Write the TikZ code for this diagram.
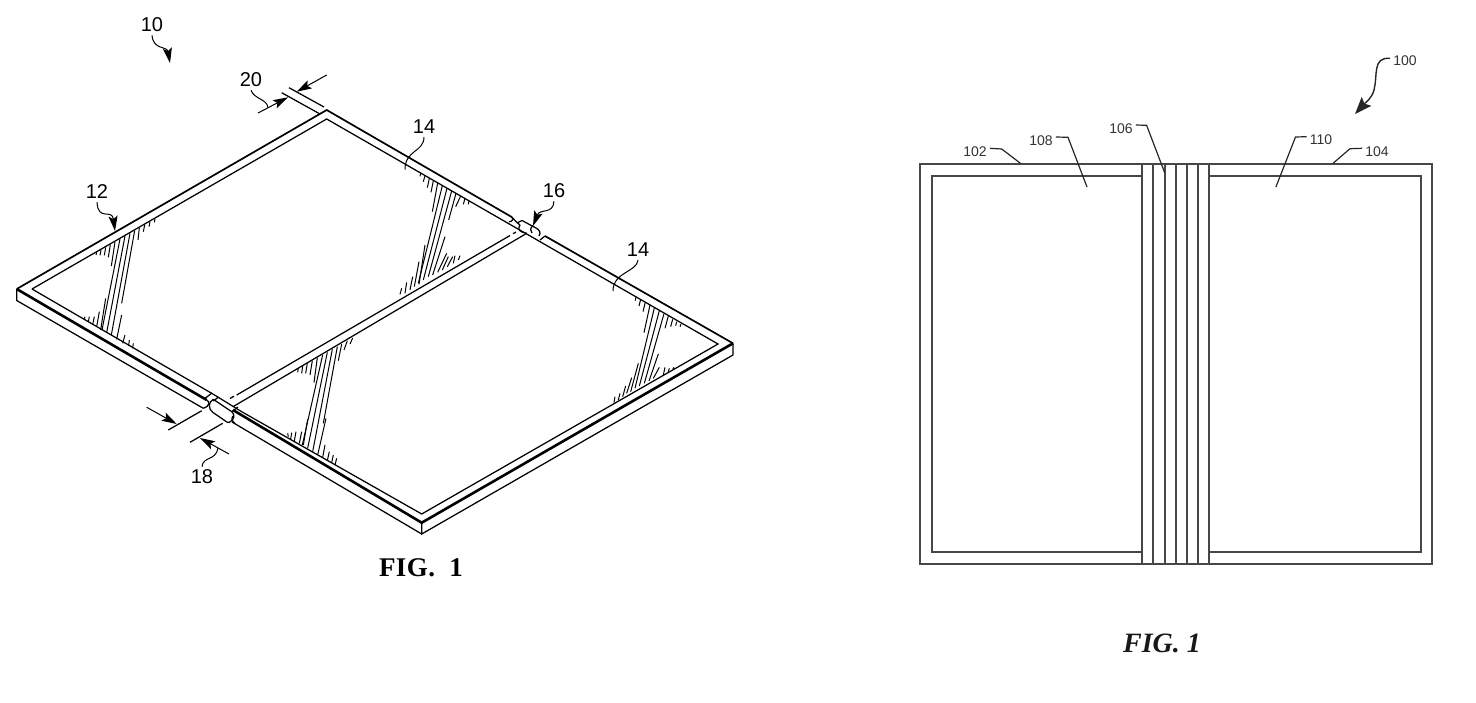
\documentclass[tikz,border=0pt]{standalone}
\usepackage{fontspec}
\setmainfont{Liberation Sans}
\newfontfamily\figserif{Liberation Serif}
\newfontfamily\figspaced[LetterSpace=1.5]{Liberation Serif}
\usetikzlibrary{arrows.meta}
\tikzset{
  thin line/.style={line width=1.25pt,black},
  mid line/.style={line width=1.7pt,black},
  heavy line/.style={line width=2.6pt,black},
  hatchline/.style={line width=1pt,black},
  leader/.style={line width=1pt,black},
  tipped/.style={line width=1pt,black,-{Stealth[length=15pt,width=9pt,inset=3pt]}},
  ref/.style={font=\fontsize{20}{20}\selectfont,inner sep=0pt,text=black},
  smallref/.style={font=\fontsize{14}{14}\selectfont,inner sep=0pt,text=black!80},
  plan/.style={line width=2pt,black!72},
  planleader/.style={line width=1.2pt,black!85}
}
\newcommand{\hatchset}[3]{%
  \begin{scope}[shift={(#1,#2)},x=0.3333pt,y=-0.3333pt]
  \foreach \a/\b/\c/\d in {#3} {\draw[hatchline] (\a,\b) -- (\c,\d);}
  \end{scope}}
\begin{document}
\begin{tikzpicture}[x=1pt,y=-1pt]
\useasboundingbox (0,0) rectangle (1476,702);
% corners of the folding device
\coordinate (L) at (16.7,289);
\coordinate (Lb) at (16.7,300.5);
\coordinate (Li) at (32,289);
\coordinate (T) at (326.7,110);
\coordinate (Ti) at (326.7,119);
\coordinate (R) at (733,343.3);
\coordinate (Rb) at (733,355);
\coordinate (Ri) at (718,344);
\coordinate (B) at (421.7,522.7);
\coordinate (Bb) at (421.7,534);
\coordinate (Bi) at (421.7,514);
% outline
\draw[mid line] (L) -- (T) -- (511.7,217);
\draw[thin line] (Li) -- (Ti) -- (Ri) -- (Bi) -- (241.7,411.7);
\draw[thin line] (Li) -- (211.7,393.3);
\draw[mid line] (545,236) -- (R);
\draw[heavy line] (L) -- (206.7,400);
\draw[heavy line] (233,410) -- (B) -- (R);
\draw[thin line] (L) -- (Lb) -- (203.3,408.3);
\draw[thin line] (R) -- (Rb) -- (Bb) -- (B);
\draw[thin line] (232,422) -- (Bb);
% fold lines
\draw[thin line] (526.7,233.3) -- (233,406.7);
\draw[thin line] (510,235.5) -- (236.7,395);
\draw[thin line] (230,398.5) -- (234,396.2);
\draw[thin line] (516,232) -- (513,233.7);
% lower hinge
\draw[thin line] (206.7,400) .. controls (210,402) and (210,406) .. (203.3,408.3);
\draw[thin line] (205,398.3) -- (211.7,393.3) -- (218.3,397.3) -- (213.3,401);
\draw[thin line] (213.3,399.3) -- (231.7,411.7) .. controls (235,414) and (235,420) .. (229,422.5) .. controls (227.5,423) and (226,421.5) .. (224,420) -- (213,412.5) .. controls (208,409) and (208,402) .. (213.3,399.3);
\draw[thin line] (218.3,397.3) -- (241.7,411.7);
\draw[thin line] (231.7,411.7) -- (238,407);
\draw[thin line] (233,416) .. controls (231,419) and (232,421) .. (235,423.5);
% upper hinge
\draw[thin line] (511.7,217) .. controls (514,219) and (512,222) .. (509,221.7);
\draw[thin line] (511.7,217) -- (517,222.5) -- (520,225);
\draw[thin line] (517,223) -- (522,220.5) -- (536,228) .. controls (540,230) and (541,233) .. (539,236);
\draw[thin line] (533,225.5) .. controls (530,228) and (530,231) .. (532,233);
\draw[thin line] (520,225) .. controls (518,228) and (519,231) .. (522,232);
\draw[thin line] (522,232) -- (526.7,233.3);
\draw[thin line] (540,240) -- (545,236);
% shading
\hatchset{70}{200}{80/157/78/165,93/150/90/166,107/142/103/166,121/134/115/172,135/126/124/198,150/117/96/390,165/108/110/398,180/100/124/405,194/92/155/310,208/84/204/120,224/75/220/95,240/66/237/80,255/57/253/67,45/350/43/358,58/350/55/365,73/350/68/374,88/335/80/380,107/295/92/390,155/345/140/418,165/405/158/430,178/420/176/438,190/430/188/445}
\hatchset{390}{165}{92/24/90/34,105/32/100/50,118/40/112/68,130/47/123/82,143/54/127/140,157/62/85/355,171/70/100/345,185/78/115/335,198/85/176/165,212/93/197/125,225/100/220/118,237/108/235/118,30/388/35/370,45/385/50/352,60/375/68/335,73/365/87/290,87/358/105/240,128/330/165/215,143/322/170/265,157/315/175/275,172/305/188/275,190/295/195/272,205/285/210/272}
\hatchset{270}{340}{85/85/83/97,98/78/95/100,112/70/107/100,127/62/120/105,142/53/132/128,158/45/97/315,172/37/113/325,187/28/128/335,202/20/160/250,215/12/205/62,232/2/222/30,248/-6/240/12,53/280/55/290,65/278/62/297,78/275/73/303,95/275/88/310,113/238/100/315,168/235/143/345,165/315/158/352,178/335/172/362,190/345/185/368,200/355/195/375}
\hatchset{600}{280}{108/50/106/62,122/58/117/78,136/66/129/95,150/75/132/158,163/84/105/325,178/92/118/318,192/101/133/310,205/108/195/145,218/118/212/140,230/125/227/137,243/132/240/140,45/350/42/368,60/340/55/360,77/318/68/350,95/293/80/340,115/250/92/335,175/222/147/303,178/262/160/295,195/262/190/285,208/265/205/275,222/262/218/268}
% labels, left figure
\node[ref] (n10) at (152,25) {10};
\node[ref] (n20) at (251,80) {20};
\node[ref] (n14a) at (424,127) {14};
\node[ref] (n16) at (554,191) {16};
\node[ref] (n14b) at (638,250) {14};
\node[ref] (n12) at (97,192) {12};
\node[ref] (n18) at (202,477) {18};
\coordinate (t10) at (170,63);
\coordinate (t12) at (115,231);
\coordinate (t16) at (533,226);
\coordinate (e14a) at (405,169.5);
\coordinate (e14b) at (613,291);
\draw[tipped] ([yshift=-3pt]n10.south) .. controls (153,50) and (167,46) .. (t10);
\draw[tipped] ([yshift=-3pt]n12.south) .. controls (98,222) and (112,208) .. (t12);
\draw[tipped] ([yshift=-3pt]n16.south) .. controls (553,215) and (540,208) .. (t16);
\draw[leader] ([yshift=-3pt]n14a.south) .. controls (424,152) and (405,150) .. (e14a);
\draw[leader] ([yshift=-3pt]n14b.south) .. controls (637,272) and (613,272) .. (e14b);
% dimension 20
\coordinate (d20a) at (258,113);
\coordinate (d20b) at (288,97.3);
\coordinate (d20c) at (326.7,75);
\coordinate (d20d) at (296.7,91.7);
\coordinate (x20a) at (281.7,92.7);
\coordinate (x20b) at (320,114);
\coordinate (x20c) at (289,87.7);
\coordinate (x20d) at (324,107);
\draw[thin line] (x20a) -- (x20b);
\draw[thin line] (x20c) -- (x20d);
\draw[tipped] (d20a) -- (d20b);
\draw[tipped] (d20c) -- (d20d);
\draw[leader] ([yshift=-3pt]n20.south) .. controls (254,99) and (267,99) .. (268,107.5);
% dimension 18
\coordinate (d18a) at (146.7,407.3);
\coordinate (d18b) at (176.7,424);
\coordinate (d18c) at (229,454);
\coordinate (d18d) at (200,438);
\coordinate (x18a) at (168.3,430);
\coordinate (x18b) at (201.7,410.7);
\coordinate (x18c) at (190,442.3);
\coordinate (x18d) at (222.7,423.3);
\draw[thin line] (x18a) -- (x18b);
\draw[thin line] (x18c) -- (x18d);
\draw[tipped] (d18a) -- (d18b);
\draw[tipped] (d18c) -- (d18d);
\draw[leader] ([yshift=3pt]n18.north) .. controls (203,456) and (216,461) .. (218,448);
\node[inner sep=0pt,font=\figspaced\bfseries\fontsize{27}{27}\selectfont] (figa) at (421,568) {FIG.\ \ 1};
% right figure
\coordinate (pTL) at (920,164);
\coordinate (pBR) at (1432,564);
\draw[plan] (pTL) rectangle (pBR);
\draw[plan] (1142,176) -- (932,176) -- (932,552) -- (1142,552);
\draw[plan] (1209,176) -- (1421,176) -- (1421,552) -- (1209,552);
\foreach \sx in {1142,1153,1165,1176,1187,1198,1209}
  \draw[plan] (\sx,164) -- (\sx,564);
\node[smallref] (n100) at (1405,61) {100};
\node[smallref] (n102) at (975,152) {102};
\node[smallref] (n108) at (1041,141) {108};
\node[smallref] (n106) at (1121,129) {106};
\node[smallref] (n110) at (1321,140) {110};
\node[smallref] (n104) at (1377,152) {104};
\coordinate (e102) at (1020.7,163.5);
\coordinate (e108) at (1087,187);
\coordinate (e106) at (1164.8,173);
\coordinate (e110) at (1275.9,187);
\coordinate (e104) at (1332.8,163.5);
\coordinate (t100) at (1355,114);
\draw[planleader] ([xshift=3pt]n102.east |- 991,148.3) -- (1001.7,149) -- (e102);
\draw[planleader] ([xshift=3pt]n108.east |- 1058,137) -- (1068,137.3) -- (e108);
\draw[planleader] ([xshift=3pt]n106.east |- 1137,125) -- (1146.6,125.3) -- (e106);
\draw[planleader] ([xshift=-3pt]n110.west |- 1304,136.7) -- (1295.5,137) -- (e110);
\draw[planleader] ([xshift=-3pt]n104.west |- 1360,148.3) -- (1350,148.7) -- (e104);
\draw[line width=1.4pt,black!85,-{Stealth[length=17pt,width=13pt,inset=3pt]}] ([xshift=-3pt]n100.west |- 1389,58.3) .. controls (1372,57) and (1378,75) .. (1374,90) .. controls (1372,98) and (1366,102) .. (t100);
\node[inner sep=0pt,font=\figserif\bfseries\itshape\fontsize{28}{28}\selectfont,text=black!90] (figb) at (1162,643) {FIG. 1};
\end{tikzpicture}
\end{document}
